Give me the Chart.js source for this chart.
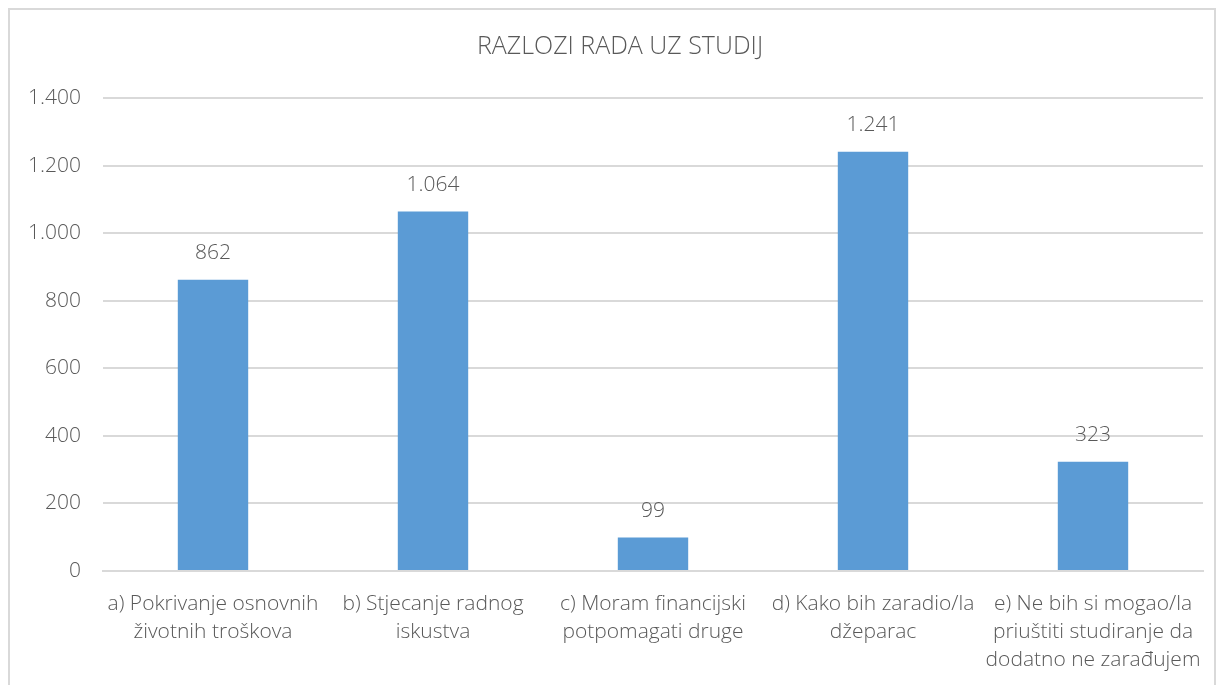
<!DOCTYPE html>
<html>
<head>
<meta charset="utf-8">
<script src="https://cdn.jsdelivr.net/npm/chart.js@4"></script>
<style>
    html, body { margin: 0; padding: 0; background: #fff; overflow: hidden; }
    #frame { position: absolute; left: 8px; top: 8px; width: 1208px; height: 700px; border: 2px solid #d9d9d9; box-sizing: border-box; }
    #wrap { position: absolute; left: 0; top: 0; width: 1222px; height: 685px; }
</style>
</head>
<body>
<div id="frame"></div>
<div id="wrap"><canvas id="chart"></canvas></div>
<script>
const TITLE = 'RAZLOZI RADA UZ STUDIJ';
const CATEGORIES = [
    ['a) Pokrivanje osnovnih', 'životnih troškova'],
    ['b) Stjecanje radnog', 'iskustva'],
    ['c) Moram financijski', 'potpomagati druge'],
    ['d) Kako bih zaradio/la', 'džeparac'],
    ['e) Ne bih si mogao/la', 'priuštiti studiranje da', 'dodatno ne zarađujem']
];
const VALUES = [862, 1064, 99, 1241, 323];
const Y_MAX = 1400;
const Y_STEP = 200;

const TEXT_COLOR = '#595959';
const FONT = '"Open Sans", Lato, sans-serif';

// Formato con punto como separador de miles (1.400)
function formatNumber(value) {
    return String(value).replace(/\B(?=(\d{3})+(?!\d))/g, '.');
}

// Etiquetas de valor encima de cada barra y título centrado en el marco
const valueLabels = {
    id: 'valueLabels',
    afterDatasetsDraw(chart) {
        const ctx = chart.ctx;
        ctx.save();
        ctx.fillStyle = TEXT_COLOR;
        ctx.textAlign = 'center';
        ctx.textBaseline = 'middle';
        ctx.font = '300 25px ' + FONT;
        ctx.fillText(TITLE, 620, 47);
        ctx.font = '300 21px ' + FONT;
        chart.getDatasetMeta(0).data.forEach((bar, i) => {
            ctx.fillText(formatNumber(VALUES[i]), bar.x, bar.y - 27);
        });
        ctx.restore();
    }
};

const CONTEXT = document.getElementById('chart').getContext('2d');
const CHART = new Chart(CONTEXT, {
    type: 'bar',
    data: {
        labels: CATEGORIES,
        datasets: [{
            data: VALUES,
            backgroundColor: '#5b9bd5',
            barPercentage: 0.64,
            categoryPercentage: 0.5
        }]
    },
    options: {
        responsive: true,
        maintainAspectRatio: false,
        animation: false,
        layout: {
            padding: { left: 0, right: 19, top: 98, bottom: 0 }
        },
        plugins: {
            legend: { display: false },
            tooltip: { enabled: false },
            title: { display: false }
        },
        scales: {
            x: {
                grid: { display: false },
                border: { display: true, color: '#d9d9d9', width: 2 },
                ticks: {
                    color: TEXT_COLOR,
                    font: { family: FONT, size: 21, weight: 300, lineHeight: 1.33 },
                    padding: 11,
                    maxRotation: 0,
                    autoSkip: false
                },
                afterFit(scale) { scale.height = 114; }
            },
            y: {
                min: 0,
                max: Y_MAX,
                grid: { color: '#d9d9d9', lineWidth: 2, drawTicks: false },
                border: { display: false },
                ticks: {
                    stepSize: Y_STEP,
                    color: TEXT_COLOR,
                    font: { family: FONT, size: 21, weight: 300 },
                    padding: 22,
                    callback: (v) => formatNumber(v)
                },
                afterFit(scale) { scale.width = 103; }
            }
        }
    },
    plugins: [valueLabels]
});
</script>
</body>
</html>
